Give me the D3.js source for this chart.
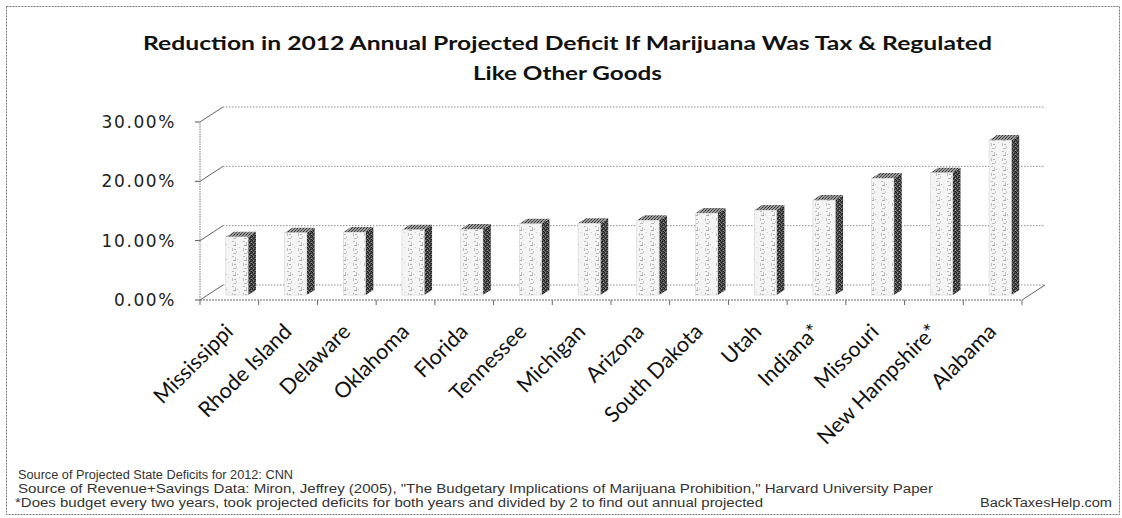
<!DOCTYPE html>
<html><head><meta charset="utf-8">
<script src="https://cdn.jsdelivr.net/npm/d3@7"></script>
<style>body{margin:0;background:#fff} svg{display:block}</style>
</head><body>
<svg id="c" width="1122" height="518"></svg>
<script>
const categories = ["Mississippi","Rhode Island","Delaware","Oklahoma","Florida","Tennessee","Michigan","Arizona","South Dakota","Utah","Indiana*","Missouri","New Hampshire*","Alabama"];
const values = [9.8,10.5,10.6,11.0,11.1,12.0,12.1,12.6,13.8,14.3,16.0,19.7,20.6,26.1];
const yTicks = [0,10,20,30];
const titleLines = ["Reduction in 2012 Annual Projected Deficit If Marijuana Was Tax & Regulated","Like Other Goods"];
const footnotes = [
  "Source of Projected State Deficits for 2012: CNN",
  "Source of Revenue+Savings Data: Miron, Jeffrey (2005), \"The Budgetary Implications of Marijuana Prohibition,\" Harvard University Paper",
  "*Does budget every two years, took projected deficits for both years and divided by 2 to find out annual projected"
];
const credit = "BackTaxesHelp.com";

const svg = d3.select("#c");
const defs = svg.append("defs");

// textures
const fp = defs.append("pattern").attr("id","frontTex").attr("patternUnits","userSpaceOnUse").attr("width",11).attr("height",15);
fp.append("rect").attr("width",11).attr("height",15).attr("fill","#f4f4f4");
[[1,1,2,1,"#b8b8b8"],[4,2,1,3,"#c4c4c4"],[2,5,3,1,"#aaa"],[6,4,1,1,"#bbb"],[1,8,1,3,"#c0c0c0"],[3,9,2,1,"#b0b0b0"],[5,11,1,2,"#c8c8c8"],[2,13,3,1,"#bdbdbd"],[8,7,1,1,"#d0d0d0"]]
  .forEach(r=>fp.append("rect").attr("x",r[0]).attr("y",r[1]).attr("width",r[2]).attr("height",r[3]).attr("fill",r[4]));

const sp = defs.append("pattern").attr("id","sideTex").attr("patternUnits","userSpaceOnUse").attr("width",4).attr("height",4);
sp.append("rect").attr("width",4).attr("height",4).attr("fill","#4a4a4a");
[[0,0,"#111"],[2,1,"#1a1a1a"],[1,2,"#222"],[3,3,"#111"],[1,0,"#8a8a8a"],[3,2,"#999"],[0,3,"#666"]]
  .forEach(r=>sp.append("rect").attr("x",r[0]).attr("y",r[1]).attr("width",1).attr("height",1).attr("fill",r[2]));

const tp = defs.append("pattern").attr("id","topTex").attr("patternUnits","userSpaceOnUse").attr("width",3).attr("height",3);
tp.append("rect").attr("width",3).attr("height",3).attr("fill","#9a9a9a");
[[0,0,"#333"],[2,1,"#555"],[1,2,"#444"]].forEach(r=>tp.append("rect").attr("x",r[0]).attr("y",r[1]).attr("width",1).attr("height",1).attr("fill",r[2]));

// frame
svg.append("rect").attr("x",6.5).attr("y",6.5).attr("width",1113).attr("height",508)
  .attr("fill","none").attr("stroke","#777").attr("stroke-dasharray","2,1");

// scales
const x = d3.scaleBand().domain(categories).range([200,1022]).paddingInner(0).paddingOuter(0);
const y = d3.scaleLinear().domain([0,30]).range([300,122]);
const DX = 23, DY = -15;
const g = svg.append("g");
const gridStroke = "#8a8a8a";

// back wall gridlines and left wall diagonals
yTicks.forEach(t=>{
  g.append("line").attr("x1",200+DX).attr("x2",1022+DX).attr("y1",y(t)+DY).attr("y2",y(t)+DY)
    .attr("stroke",gridStroke).attr("stroke-dasharray","1.5,1.5");
  g.append("line").attr("x1",200).attr("y1",y(t)).attr("x2",200+DX).attr("y2",y(t)+DY)
    .attr("stroke","#666").attr("stroke-width",1);
  g.append("line").attr("x1",195).attr("x2",200).attr("y1",y(t)).attr("y2",y(t)).attr("stroke","#555");
});
// left axis
g.append("line").attr("x1",200).attr("x2",200).attr("y1",y(0)).attr("y2",y(30)).attr("stroke","#777").attr("stroke-dasharray","1.5,1");
// floor front edge + right edge
g.append("line").attr("x1",200).attr("x2",1022).attr("y1",y(0)).attr("y2",y(0)).attr("stroke","#666").attr("stroke-dasharray","2,1");
g.append("line").attr("x1",1022).attr("y1",y(0)).attr("x2",1022+DX).attr("y2",y(0)+DY).attr("stroke","#666");
// category ticks
categories.concat(["_end"]).forEach((c,i)=>{
  const xx = i<categories.length ? x(c) : x.range()[1];
  g.append("line").attr("x1",xx).attr("x2",xx).attr("y1",y(0)).attr("y2",y(0)+5).attr("stroke","#666");
});

// bars
const d0 = 0.33, d1 = 0.67;
const bars = g.append("g");
categories.forEach((c,i)=>{
  const v = values[i];
  const bw = x.bandwidth()*0.38;
  const bx = x(c) + (x.bandwidth()-bw)/2;
  const fx0 = bx + d0*DX, fx1 = bx + bw + d0*DX;
  const fyT = y(v) + d0*DY, fyB = y(0) + d0*DY;
  const ox = (d1-d0)*DX, oy = (d1-d0)*DY;
  bars.append("path").attr("d",`M${fx1},${fyB} L${fx1+ox},${fyB+oy} L${fx1+ox},${fyT+oy} L${fx1},${fyT} Z`)
    .attr("fill","url(#sideTex)");
  bars.append("path").attr("d",`M${fx0},${fyT} L${fx1},${fyT} L${fx1+ox},${fyT+oy} L${fx0+ox},${fyT+oy} Z`)
    .attr("fill","url(#topTex)");
  bars.append("rect").attr("x",fx0).attr("y",fyT).attr("width",fx1-fx0).attr("height",fyB-fyT)
    .attr("fill","url(#frontTex)").attr("stroke","#ccc").attr("stroke-width",0.5);
});

// y labels
yTicks.forEach(t=>{
  svg.append("text").attr("x",176).attr("y",y(t)).attr("text-anchor","end").attr("dominant-baseline","central")
    .attr("font-family","DejaVu Sans").attr("font-size",17).attr("letter-spacing","1.6px").attr("fill","#222")
    .text(d3.format(".2%")(t/100));
});

// x labels
categories.forEach(c=>{
  const cx = x(c) + x.bandwidth()/2;
  svg.append("text").attr("transform",`translate(${cx+5},${333}) rotate(-45)`)
    .attr("text-anchor","end").attr("font-family","Lato").attr("font-size",21.5).attr("fill","#111").text(c);
});

// title
svg.append("text").attr("x",567.5).attr("y",50).attr("text-anchor","middle").attr("font-family","Lato")
  .attr("font-weight","bold").attr("font-size",19).attr("fill","#111")
  .attr("textLength",849).attr("lengthAdjust","spacingAndGlyphs").text(titleLines[0]);
svg.append("text").attr("x",567.5).attr("y",80).attr("text-anchor","middle").attr("font-family","Lato")
  .attr("font-weight","bold").attr("font-size",19).attr("fill","#111")
  .attr("textLength",189).attr("lengthAdjust","spacingAndGlyphs").text(titleLines[1]);

// footnotes
const fnX = [18,18,15], fnW = [275,915,748], fnY = [479,493,507];
footnotes.forEach((f,i)=>{
  svg.append("text").attr("x",fnX[i]).attr("y",fnY[i]).attr("font-family","Liberation Sans").attr("font-size",12.5)
    .attr("fill","#333").attr("textLength",fnW[i]).attr("lengthAdjust","spacingAndGlyphs").text(f);
});
svg.append("text").attr("x",980).attr("y",507).attr("font-family","Liberation Sans").attr("font-size",12.5)
  .attr("fill","#333").attr("textLength",132).attr("lengthAdjust","spacingAndGlyphs").text(credit);
</script>
</body></html>
